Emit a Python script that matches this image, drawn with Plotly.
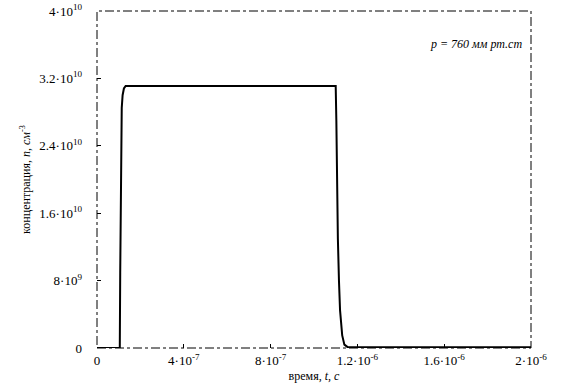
import plotly.graph_objects as go

# data
time_s = [0, 1.05e-7, 1.07e-7, 1.10e-7, 1.14e-7, 1.18e-7, 1.24e-7, 1.32e-7, 1.45e-7,
          1.10e-6, 1.103e-6, 1.106e-6, 1.11e-6, 1.115e-6, 1.12e-6, 1.13e-6, 1.14e-6, 1.155e-6, 2.0e-6]
conc = [0, 0, 0.9e10, 2.3e10, 2.85e10, 3.0e10, 3.08e10, 3.11e10, 3.11e10,
        3.11e10, 2.7e10, 2.0e10, 1.3e10, 0.8e10, 0.45e10, 0.15e10, 0.04e10, 0.01e10, 0.01e10]

x_ticks = [0, 4e-7, 8e-7, 1.2e-6, 1.6e-6, 2e-6]
x_labels = ["0", "4·10<sup>-7</sup>", "8·10<sup>-7</sup>", "1.2·10<sup>-6</sup>",
            "1.6·10<sup>-6</sup>", "2·10<sup>-6</sup>"]
y_ticks = [0, 8e9, 1.6e10, 2.4e10, 3.2e10, 4e10]
y_labels = ["0", "8·10<sup>9</sup>", "1.6·10<sup>10</sup>", "2.4·10<sup>10</sup>",
            "3.2·10<sup>10</sup>", "4·10<sup>10</sup>"]

fig = go.Figure()
fig.add_trace(go.Scatter(x=time_s, y=conc, mode="lines",
                         line=dict(color="black", width=2), showlegend=False))

font = dict(family="Liberation Serif", size=13, color="black")
fig.update_layout(
    width=561, height=387,
    margin=dict(l=97, r=30, t=11, b=39),
    paper_bgcolor="white", plot_bgcolor="white",
    font=font,
    xaxis=dict(range=[0, 2e-6], tickvals=x_ticks, ticktext=x_labels, automargin=False,
               showgrid=False, zeroline=False, showline=False,
               ticks="inside", ticklen=4, tickcolor="black", ticklabelstandoff=3,
               title=dict(text="время, <i>t</i>, <i>c</i>", standoff=4, font=dict(size=12))),
    yaxis=dict(range=[0, 4e10], tickvals=y_ticks, ticktext=y_labels, automargin=False,
               showgrid=False, zeroline=False, showline=False,
               ticks="inside", ticklen=4, tickcolor="black", ticklabelstandoff=14,
               title=dict(text="концентрация, <i>n</i>, <i>см</i><sup>-3</sup>", standoff=6,
                          font=dict(size=12))),
)
fig.add_shape(type="rect", xref="paper", yref="paper", x0=0, y0=0, x1=1, y1=1,
              line=dict(color="black", width=1, dash="dashdot"))
fig.add_annotation(xref="paper", yref="paper", x=0.985, y=0.93, xanchor="right",
                   text="<i>p = 760 мм рт.ст</i>", showarrow=False,
                   font=dict(family="Liberation Serif", size=12, color="black"))
fig.write_html("out.html", config={"displayModeBar": False},
               post_script="document.body.style.margin='0';")
